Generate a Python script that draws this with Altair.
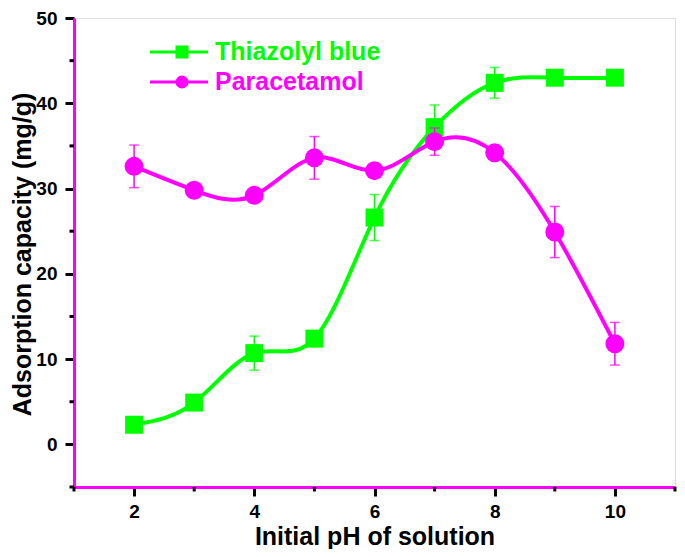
import altair as alt
import pandas as pd

ph = [2, 3, 4, 5, 6, 7, 8, 9, 10]
thiazolyl = [2.3, 4.9, 10.7, 12.4, 26.6, 37.2, 42.4, 43.0, 43.0]
thiazolyl_err = [0.8, 0.5, 2.0, 0.6, 2.7, 2.6, 1.8, 0.5, 0.4]
paracetamol = [32.6, 29.8, 29.2, 33.6, 32.1, 35.5, 34.2, 24.9, 11.8]
paracetamol_err = [2.5, 0.6, 0.5, 2.5, 0.6, 1.6, 0.6, 3.0, 2.5]

x_major = [2, 4, 6, 8, 10]
x_minor = [1, 3, 5, 7, 9, 11]
y_major = [0, 10, 20, 30, 40, 50]
y_minor = [-5, 5, 15, 25, 35, 45]

GREEN = "#00FF00"
MAGENTA = "#FF00FF"
FONT = "Liberation Sans"
W, H = 601, 469

df_t = pd.DataFrame({"ph": ph, "val": thiazolyl, "err": thiazolyl_err})
df_t["lo"] = df_t["val"] - df_t["err"]
df_t["hi"] = df_t["val"] + df_t["err"]
df_p = pd.DataFrame({"ph": ph, "val": paracetamol, "err": paracetamol_err})
df_p["lo"] = df_p["val"] - df_p["err"]
df_p["hi"] = df_p["val"] + df_p["err"]

x_axis = alt.Axis(
    values=x_major, tickSize=9, tickWidth=3, tickColor="black",
    domainColor=MAGENTA, domainWidth=3,
    labelFont=FONT, labelFontWeight="bold", labelFontSize=19, labelColor="black",
    labelPadding=6,
    title="Initial pH of solution", titleFont=FONT, titleFontWeight="bold",
    titleFontSize=25, titleColor="black", titleY=57, titleBaseline="alphabetic",
    grid=False,
)
y_axis = alt.Axis(
    values=y_major, tickSize=9, tickWidth=3, tickColor="black",
    domainColor=MAGENTA, domainWidth=3,
    labelFont=FONT, labelFontWeight="bold", labelFontSize=19, labelColor="black",
    labelPadding=8,
    title="Adsorption capacity (mg/g)", titleFont=FONT, titleFontWeight="bold",
    titleFontSize=25, titleColor="black", titleX=-52, titleY=236,
    titleBaseline="middle", titleAlign="center", titleAngle=270,
    grid=False,
)

xs = alt.Scale(domain=[1, 11], nice=False, zero=False)
ys = alt.Scale(domain=[-5, 50], nice=False, zero=False)


def series(df, color, shape, size):
    base = alt.Chart(df)
    X = alt.X("ph:Q", scale=xs, axis=x_axis)
    Y = alt.Y("val:Q", scale=ys, axis=y_axis)
    line = base.mark_line(color=color, strokeWidth=4, interpolate="natural").encode(x=X, y=Y)
    bars = base.mark_rule(color=color, strokeWidth=1.5).encode(
        x=X, y=alt.Y("lo:Q", scale=ys, axis=y_axis), y2="hi:Q")
    cap_lo = base.mark_tick(color=color, orient="horizontal", size=10, thickness=1.5).encode(
        x=X, y=alt.Y("lo:Q", scale=ys, axis=y_axis))
    cap_hi = base.mark_tick(color=color, orient="horizontal", size=10, thickness=1.5).encode(
        x=X, y=alt.Y("hi:Q", scale=ys, axis=y_axis))
    pts = base.mark_point(shape=shape, filled=True, color=color, size=size, opacity=1).encode(x=X, y=Y)
    return [line, pts, bars, cap_lo, cap_hi]


# minor ticks (short black marks just outside the frame)
minor_x = alt.Chart(pd.DataFrame({"v": x_minor})).mark_rule(color="black", strokeWidth=3).encode(
    x=alt.X("v:Q", scale=xs, axis=x_axis), y=alt.value(H), y2=alt.value(H + 4.5))
minor_y = alt.Chart(pd.DataFrame({"v": y_minor})).mark_rule(color="black", strokeWidth=3).encode(
    y=alt.Y("v:Q", scale=ys, axis=y_axis), x=alt.value(-4.5), x2=alt.value(0))

one = pd.DataFrame({"k": [0]})


def legend_item(label, color, shape, size, ly):
    b = alt.Chart(one)
    ln = b.mark_rule(color=color, strokeWidth=3).encode(
        x=alt.value(76), x2=alt.value(134), y=alt.value(ly))
    sym = b.mark_point(shape=shape, filled=True, color=color, size=size, opacity=1).encode(
        x=alt.value(108), y=alt.value(ly))
    txt = b.mark_text(text=label, color=color, font=FONT, fontWeight="bold", fontSize=25,
                      align="left", baseline="middle").encode(
        x=alt.value(141), y=alt.value(ly))
    return [ln, sym, txt]


layers = ([minor_x, minor_y]
          + series(df_t, GREEN, "square", 324) + series(df_p, MAGENTA, "circle", 361)
          + legend_item("Thiazolyl blue", GREEN, "square", 170, 34)
          + legend_item("Paracetamol", MAGENTA, "circle", 170, 64))

chart = alt.layer(*layers).properties(
    width=W, height=H,
    autosize="none",
    padding={"left": 66, "top": 10, "right": 2, "bottom": 62},
).configure_view(stroke=MAGENTA, strokeWidth=3).configure(background="white")

chart.save("out.html", embed_options={"renderer": "svg", "actions": False})
